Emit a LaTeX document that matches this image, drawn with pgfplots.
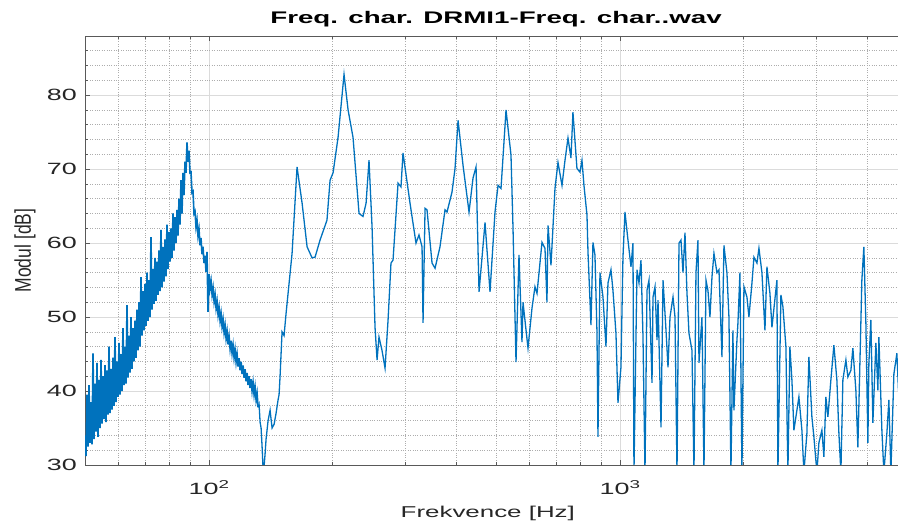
\documentclass[border=0pt]{standalone}
\usepackage{fontspec}
\setmainfont{Liberation Sans}[FakeStretch=1.65]
\newfontfamily\ylabfont{Liberation Sans}
\usepackage{pgfplots}
\pgfplotsset{compat=1.18}
\definecolor{mblue}{RGB}{0,114,189}
\definecolor{mtxt}{RGB}{38,38,38}
\begin{document}
\begin{tikzpicture}
\begin{axis}[
  scale only axis, width=822bp, height=429bp,
  xmode=log, xmin=49.9, xmax=4992, ymin=30, ymax=88,
  xtick={100,1000}, xticklabels={10\textsuperscript{2},10\textsuperscript{3}},
  minor xtick={60,70,80,90,200,300,400,500,600,700,800,900,2000,3000,4000},
  ytick={30,40,50,60,70,80},
  minor ytick={32,34,36,38,42,44,46,48,52,54,56,58,62,64,66,68,72,74,76,78,82,84,86},
  /pgf/number format/assume math mode=true,
  grid=both,
  major grid style={black!14, line width=0.7bp},
  minor grid style={black!32, dotted, line width=0.7bp},
  axis line style={black!65, line width=0.8bp},
  tick style={black!65, line width=0.7bp},
  major tick length=5bp, minor tick length=3bp, tick align=inside,
  ticklabel style={font=\fontsize{16.3bp}{18bp}\selectfont, text=mtxt, inner sep=0pt},
  xticklabel style={anchor=base, yshift=-30bp},
  yticklabel style={anchor=east, xshift=-8bp},
  title={\textbf{Freq. char. DRMI1-Freq. char..wav}},
  title style={font=\fontsize{16.8bp}{19bp}\selectfont, at={(axis description cs:0.5,1.0163)}, anchor=base, inner sep=0pt},
  xlabel={Frekvence [Hz]},
  xlabel style={font=\fontsize{15.7bp}{18bp}\selectfont, text=mtxt, at={(axis description cs:0.49,-0.1235)}, anchor=base, inner sep=0pt},
  ylabel={\scalebox{1}[1.3]{\fontsize{17.5bp}{19bp}\ylabfont Modul [dB]}},
  ylabel style={text=mtxt, at={(axis description cs:-0.073,0.5)}, anchor=center, inner sep=0pt},
]
\addplot[mblue, line width=1.6bp] coordinates {
(49.90,34.0)(50.18,31.2)(50.46,39.5)(50.75,32.5)(51.03,40.8)(51.32,33.0)(51.61,38.5)(51.90,32.8)
(52.19,45.1)(52.48,33.5)(52.78,41.0)(53.08,34.5)(53.37,43.8)(53.67,33.8)(53.98,41.5)(54.28,35.0)
(54.59,44.2)(54.89,35.6)(55.20,42.0)(55.51,36.2)(55.82,43.5)(56.14,35.8)(56.45,42.8)(56.77,36.8)
(57.09,46.0)(57.40,37.0)(57.73,43.0)(58.05,37.5)(58.38,44.5)(58.70,38.0)(59.03,47.3)(59.37,38.5)
(59.70,44.0)(60.03,39.2)(60.37,46.5)(60.71,39.5)(61.05,45.0)(61.39,40.0)(61.74,48.5)(62.08,40.8)
(62.43,46.0)(62.78,41.0)(63.14,51.6)(63.49,41.8)(63.85,47.5)(64.21,42.5)(64.57,50.0)(64.93,43.0)
(65.30,48.5)(65.66,44.0)(66.03,49.5)(66.40,44.5)(66.78,51.0)(67.15,45.5)(67.53,52.0)(67.91,46.0)
(68.29,55.4)(68.67,47.5)(69.06,53.5)(69.45,48.2)(69.84,54.5)(70.23,48.8)(70.63,56.0)(71.02,49.5)
(71.42,55.0)(71.82,50.0)(72.23,60.8)(72.63,51.0)(73.04,56.5)(73.45,51.8)(73.86,58.0)(74.28,52.2)
(74.70,57.5)(75.12,53.0)(75.54,59.0)(75.96,53.5)(76.39,61.8)(76.82,54.0)(77.25,59.5)(77.68,54.8)
(78.12,60.5)(78.56,55.5)(79.00,62.5)(79.45,56.5)(79.89,61.5)(80.34,57.5)(80.79,62.0)(81.25,58.0)
(81.70,64.0)(82.16,59.0)(82.62,63.5)(83.09,60.0)(83.56,64.5)(84.03,61.0)(84.50,66.0)(84.97,62.5)
(85.45,68.5)(85.93,64.0)(86.41,69.5)(86.90,66.5)(87.38,71.0)(87.87,69.5)(88.37,73.6)(88.87,71.0)
(89.37,72.5)(89.87,69.5)(90.37,69.6)(90.88,66.8)(91.39,67.0)(91.90,64.0)(92.42,64.3)(92.94,62.2)
(93.46,63.1)(93.98,61.0)(94.51,61.9)(95.05,59.7)(95.58,60.7)(96.12,58.5)(96.66,59.5)(97.20,57.3)
(97.75,58.3)(98.30,56.1)(98.85,58.8)(99.40,50.7)(100.0,55.8)(100.56,53.9)(101.13,54.85)(101.70,53.0)
(102.27,53.95)(102.84,52.1)(103.42,53.05)(104.00,51.2)(104.58,52.15)(105.17,50.3)(105.76,51.3)(106.36,49.5)
(106.95,50.5)(107.55,48.7)(108.16,49.7)(108.77,47.9)(109.38,48.9)(109.99,47.1)(110.61,48.1)(111.23,46.3)
(111.86,47.4)(112.49,45.7)(113.12,46.8)(113.75,45.1)(114.39,46.2)(115.04,44.5)(115.68,45.6)(116.33,43.9)
(116.98,45.0)(117.64,43.3)(118.30,44.45)(118.97,42.8)(119.64,43.95)(120.31,42.3)(120.98,43.45)(121.66,41.8)
(122.35,42.95)(123.04,41.3)(123.73,42.45)(124.42,40.8)(125.12,42.0)(125.82,40.4)(126.53,41.6)(127.24,40.0)
(127.96,41.15)(128.68,39.5)(129.40,40.55)(130.13,38.8)(130.86,39.7)(131.59,37.8)
};
\addplot[mblue, line width=1.3bp] coordinates {
(131.59,37.8)(132.33,38.2)(133.08,35.8)(133.83,35.0)(134.58,32.5)(135.33,29.5)(136.09,29.8)(136.86,31.5)
(137.63,33.5)(139.18,36.0)(140.75,37.4)(142.33,35.0)(143.94,35.5)(145.56,37.0)(147.20,38.8)(148.02,39.5)
(148.85,42.0)(150.53,48.0)(152.23,47.5)(153.94,50.5)(155.68,53.2)(159.2,58.6)(163.7,70.3)
(168.4,65.4)(173.2,59.5)(178.1,58.0)(181.1,58.1)(186.2,60.4)(193.6,63.1)(197.0,68.5)(200.3,69.5)
(206.0,74.3)(213.0,82.8)(217.9,78.0)(224.0,74.3)(231.7,64.0)(236.9,63.6)(241.0,65.4)(245.0,71.2)
(249.2,62.2)(253.4,48.6)(256.3,44.2)(259.1,47.3)(263.5,45.5)(268.0,43.1)(272.6,49.6)(277.1,57.3)
(280.3,57.7)(288.3,68.1)(293.1,67.6)(296.4,72.2)(308.3,65.4)(318.8,60.0)(324.2,61.1)(329.8,59.5)
(331.6,49.2)(335.4,64.7)(339.1,64.5)(348.8,57.3)(354.7,56.6)(364.7,59.5)(375.1,64.5)(379.3,64.2)
(390.1,66.9)(396.8,70.1)(403.5,76.6)(414.9,70.5)(429.1,64.2)(438.8,68.8)(446.3,70.3)(453.8,53.4)
(461.4,58.0)(469.3,62.8)(482.6,53.4)(496.3,64.2)(504.8,67.8)(513.3,67.4)(527.9,78.0)(542.8,71.9)
(549.0,62.0)(558.3,43.9)(567.7,58.4)(577.3,46.6)(580.6,52.0)(597.1,45.8)(610.6,51.2)(620.9,54.1)
(628.0,53.2)(645.8,60.1)(656.7,59.3)(664.1,52.0)(667.9,62.4)(679.2,57.0)(694.6,67.4)(706.4,70.9)
(722.4,67.8)(734.6,71.2)(747.1,74.2)(759.6,71.5)(768.2,77.7)(785.6,70.1)(798.9,69.6)(807.9,71.2)
(817.0,67.8)(830.9,63.8)(835.6,58.8)(849.7,48.9)(859.2,60.1)(868.9,58.4)(878.7,48.0)(883.7,33.8)
(893.6,56.0)(908.8,52.7)(924.2,46.0)(934.6,54.6)(950.4,56.4)(961.1,53.6)(977.4,47.8)(988.5,38.4)
(1005.1,43.2)(1016.5,58.1)(1028,64.2)(1045.4,60.4)(1063.1,56.8)(1075.1,60.0)(1081.1,29)(1099.5,56.4)
(1112.0,54.6)(1124.5,57.7)(1137.2,47.3)(1150.0,29)(1163.0,53.6)(1176.1,55.0)(1196.1,41.1)(1202.8,52.7)
(1216.4,54.1)(1230.1,46.9)(1237.0,52.3)(1258.0,35.1)(1272.2,55.0)(1293.7,48.2)(1308.3,43.2)(1323.0,50.0)
(1345.5,52.7)(1360.6,50.0)(1375.9,29)(1391.4,60.0)(1407.0,60.4)(1422.9,56.0)(1438.9,61.4)(1455.1,53.2)
(1471.5,47.8)(1496.4,45.5)(1513.2,29)(1530.2,56.0)(1547.5,60.4)(1556.2,43.8)(1582.6,50.0)(1600.4,29)
(1618.4,55.0)(1636.6,53.6)(1655.0,50.0)(1673.7,55.4)(1692.5,58.6)(1721.2,56.0)(1740.6,56.4)(1770.1,44.6)
(1790.0,59.7)(1820.3,56.0)(1840.8,50.0)(1861.5,29)(1882.5,48.2)(1893.1,37.4)(1925.2,46.9)(1936.0,49.2)
(1957.8,56.0)(1979.9,29)(2002.1,54.1)(2036.1,52.7)(2059.0,50.0)(2093.9,54.6)(2117.5,58.1)(2153.3,57.3)
(2177.6,59.3)(2214.5,56.0)(2252.0,48.2)(2277.4,56.8)(2316.0,53.2)(2342.1,48.6)(2408.3,55.0)(2421.8,29)
(2462.8,53.0)(2490.5,51.4)(2532.7,46.0)(2561.2,29)(2590.1,46.0)(2619.3,41.5)(2648.8,34.7)(2693.7,37.4)
(2724.0,39.2)(2770.2,34.7)(2801.4,29)(2848.9,34.3)(2881.0,44.6)(2929.8,36.5)(2962.8,33.8)(3013.0,29)
(3046.9,33.0)(3098.6,34.7)(3133.5,31.1)(3168.8,39.2)(3204.5,36.5)(3258.8,41.5)(3314.1,46.2)(3370.2,41.5)
(3408.2,34.3)(3446.6,29)(3485.4,41.5)(3544.5,44.2)(3584.4,41.9)(3645.2,42.8)(3686.2,45.8)(3748.7,40.1)
(3790.9,32.4)(3855.2,49.2)(3876.8,55.0)(3920.5,59.5)(3964.6,49.2)(4009.3,33.0)(4031.8,43.8)(4077.2,49.6)
(4123.1,35.7)(4193.0,46.5)(4240.2,40.1)(4264.1,47.3)(4336.3,34.7)(4385.2,29)(4459.5,34.3)(4509.7,38.8)
(4560.5,29)(4611.8,37.8)(4637.8,42.3)(4716.4,45.1)(4760,40.0)
};
\end{axis}
\pgfresetboundingbox
\path[use as bounding box] ([shift={(-85bp,-58bp)}]current axis.south west) rectangle ([shift={(-9bp,36bp)}]current axis.north east);
\end{tikzpicture}
\end{document}
